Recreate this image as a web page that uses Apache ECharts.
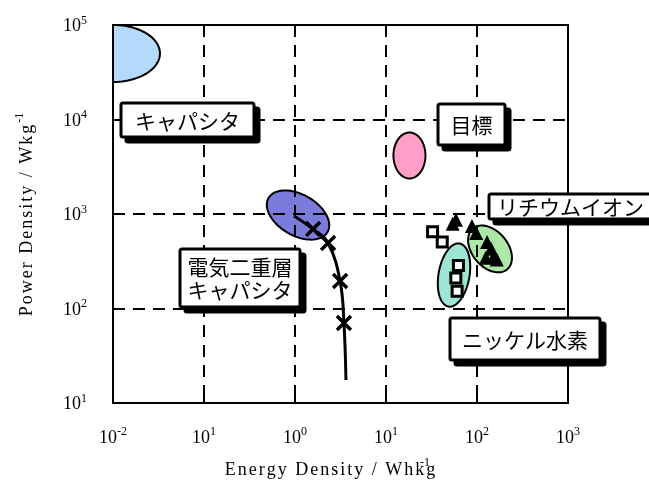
<!DOCTYPE html>
<html>
<head>
<meta charset="utf-8">
<script src="https://cdn.jsdelivr.net/npm/echarts@6/dist/echarts.min.js"></script>
<style>
  html, body { margin: 0; padding: 0; background: #fff; }
  #chart { width: 649px; height: 482px; }
</style>
</head>
<body>
<div id="chart"></div>
<script>
// Tick label exponents (10^n) along each axis
const xTickExponents = ['-2', '1', '0', '1', '2', '3'];
const yTickExponents = ['1', '2', '3', '4', '5'];

// Operating regions as ellipses in log space:
// centre energy (Wh/kg), centre power (W/kg), half-spans in decades, tilt (deg, clockwise)
const regionNames  = ['キャパシタ', '電気二重層キャパシタ', '目標', 'ニッケル水素', 'リチウムイオン'];
const regionEnergy = [0.01, 1.08, 18.1, 55.9, 139];
const regionPower  = [50000, 975, 4160, 226, 427];
const regionSpanA  = [0.516, 0.374, 0.176, 0.170, 0.293];
const regionSpanB  = [0.302, 0.217, 0.243, 0.339, 0.189];
const regionTilt   = [0, 30, 0, 10, 50];

// Electric double-layer capacitor discharge curve
const edlcEnergy = [0.975, 1.58, 2.31, 3.13, 3.45, 3.63];
const edlcPower  = [953, 693, 493, 195, 70.3, 17.5];
const edlcMarked = [false, true, true, true, true, false];

// Nickel-metal hydride cells
const nimhEnergy = [32.5, 41.5, 62.5, 58.5, 60.5];
const nimhPower  = [650, 506, 285, 210, 152];

// Lithium-ion cells
const liionEnergy = [58.7, 54, 88, 98, 129, 143, 154, 125, 165];
const liionPower  = [870, 790, 745, 630, 505, 430, 360, 345, 330];

// Annotation labels
const labelTexts = ['キャパシタ', '目標', 'リチウムイオン', '電気二重層\nキャパシタ', 'ニッケル水素'];

const regionFill = ['#b3d9fb', '#7b7bdc', '#ff9fc8', '#9de6d6', '#aee8a8'];

const SERIF = '"Liberation Serif", "Times New Roman", serif';
const JP = '"Noto Sans CJK JP", "Noto Sans", sans-serif';

const expRich = {
  b: { fontFamily: SERIF, fontSize: 18, color: '#000', verticalAlign: 'bottom' },
  s: { fontFamily: SERIF, fontSize: 12, color: '#000', verticalAlign: 'bottom', padding: [0, 0, 9, 0] }
};

function logAxis(min, max, exps, extra) {
  return Object.assign({
    type: 'log', logBase: 10, min: min, max: max, z: 1,
    axisLine: { show: true, onZero: false, lineStyle: { color: '#000', width: 2 } },
    axisTick: { show: true, inside: true, length: 10, lineStyle: { color: '#000', width: 2 } },
    minorTick: { show: false },
    axisLabel: {
      formatter: function (v, i) { return '{b|10}{s|' + exps[i] + '}'; },
      rich: expRich
    },
    splitLine: { show: true, lineStyle: { color: '#000', width: 2, type: [12, 8] } }
  }, extra);
}

function frameAxis(min, max, pos) {
  return {
    type: 'log', logBase: 10, min: min, max: max, position: pos, z: 1,
    axisLine: { show: true, onZero: false, lineStyle: { color: '#000', width: 2 } },
    axisTick: { show: false }, axisLabel: { show: false }, splitLine: { show: false }
  };
}

const regionData = regionEnergy.map((e, i) => [e, regionPower[i], regionSpanA[i], regionSpanB[i], regionTilt[i]]);

function renderRegion(params, api) {
  const e = api.value(0), p = api.value(1);
  const c = api.coord([e, p]);
  const pxX = api.coord([e * 10, p])[0] - c[0];
  const pxY = c[1] - api.coord([e, p * 10])[1];
  const a = api.value(2) * pxX, b = api.value(3) * pxY;
  const t = api.value(4) * Math.PI / 180;
  const ux = Math.cos(t), uy = Math.sin(t), vx = -Math.sin(t), vy = Math.cos(t);
  const pts = [];
  for (let k = 0; k < 96; k++) {
    const s = k / 96 * Math.PI * 2;
    const ca = a * Math.cos(s), sb = b * Math.sin(s);
    pts.push([c[0] + ca * ux + sb * vx, c[1] + ca * uy + sb * vy]);
  }
  return {
    type: 'polygon',
    shape: { points: pts },
    style: { fill: regionFill[params.dataIndex], stroke: '#000', lineWidth: 2 }
  };
}

// Letter-spaced serif text built from single-character rich fragments
function spaced(str) {
  return str.split('').map(ch => '{c|' + ch + '}').join('');
}
const titleRich = {
  c: { fontFamily: SERIF, fontSize: 18, fill: '#000', verticalAlign: 'bottom', padding: [0, 1, 0, 1] },
  s: { fontFamily: SERIF, fontSize: 12, fill: '#000', verticalAlign: 'bottom', padding: [0, 0, 10, 1] }
};

// Annotation boxes with a solid drop shadow
const boxLayout = [
  { x: 121, y: 103, w: 133, h: 34 },
  { x: 438, y: 104, w: 67, h: 41 },
  { x: 489, y: 194, w: 168, h: 25 },
  { x: 180, y: 249, w: 120, h: 58 },
  { x: 450, y: 318, w: 150, h: 42 }
];
const labelGraphics = [];
labelTexts.forEach((txt, i) => {
  const L = boxLayout[i];
  labelGraphics.push({
    type: 'rect', z: 99,
    shape: { x: L.x + 5, y: L.y + 5, width: L.w, height: L.h, r: 2 },
    style: { fill: '#000', stroke: '#000', lineWidth: 3 }
  });
  labelGraphics.push({
    type: 'rect', z: 100,
    shape: { x: L.x, y: L.y, width: L.w, height: L.h, r: 2 },
    style: { fill: '#fff', stroke: '#000', lineWidth: 3 }
  });
  labelGraphics.push({
    type: 'text', z: 101,
    x: i === 2 ? L.x + 8 : L.x + L.w / 2, y: L.y + L.h / 2 + 1,
    style: {
      text: txt, fontFamily: JP, fontSize: 21, fill: '#000', lineHeight: 23,
      align: i === 2 ? 'left' : 'center', verticalAlign: 'middle',
      textAlign: i === 2 ? 'left' : 'center', textVerticalAlign: 'middle'
    }
  });
});

const chart = echarts.init(document.getElementById('chart'));
chart.setOption({
  animation: false,
  backgroundColor: '#fff',
  grid: { left: 113, right: 81, top: 25, bottom: 79 },
  xAxis: [
    logAxis(0.01, 1000, xTickExponents, { position: 'bottom', axisLabel: { margin: 23, formatter: function (v, i) { return '{b|10}{s|' + xTickExponents[i] + '}'; }, rich: expRich } }),
    frameAxis(0.01, 1000, 'top')
  ],
  yAxis: [
    logAxis(10, 100000, yTickExponents, { position: 'left', axisLabel: { margin: 26, formatter: function (v, i) { return '{b|10}{s|' + yTickExponents[i] + '}'; }, rich: expRich } }),
    frameAxis(10, 100000, 'right')
  ],
  series: [
    {
      type: 'custom', name: 'regions', z: 0, clip: true,
      renderItem: renderRegion,
      encode: { x: 0, y: 1 },
      data: regionData
    },
    {
      type: 'line', name: '電気二重層キャパシタ', z: 3, smooth: 0.4,
      data: edlcEnergy.map((e, i) => ({ value: [e, edlcPower[i]], symbol: edlcMarked[i] ? 'path://M0,0L10,10M10,0L0,10' : 'none' })),
      symbolSize: 14,
      lineStyle: { color: '#000', width: 3 },
      itemStyle: { color: '#000', borderColor: '#000', borderWidth: 3.5 }
    },
    {
      type: 'scatter', name: 'ニッケル水素', z: 4,
      data: nimhEnergy.map((e, i) => [e, nimhPower[i]]),
      symbol: 'rect', symbolSize: 10,
      itemStyle: { color: '#fff', borderColor: '#000', borderWidth: 3, opacity: 1 }
    },
    {
      type: 'scatter', name: 'リチウムイオン', z: 4,
      data: liionEnergy.map((e, i) => [e, liionPower[i]]),
      symbol: 'triangle', symbolSize: 14,
      itemStyle: { color: '#000', opacity: 1 }
    }
  ],
  graphic: labelGraphics.concat([
    {
      type: 'text', z: 50, x: 25, y: 215, rotation: Math.PI / 2,
      style: { text: spaced('Power Density / Wkg') + '{s|-1}', rich: titleRich, align: 'center', verticalAlign: 'middle', textAlign: 'center', textVerticalAlign: 'middle' }
    },
    {
      type: 'text', z: 50, x: 330, y: 470,
      style: { text: spaced('Energy Density / Whkg'), rich: titleRich, align: 'center', verticalAlign: 'middle', textAlign: 'center', textVerticalAlign: 'middle' }
    },
    {
      type: 'text', z: 51, x: 425, y: 463,
      style: { text: '-1', fontFamily: SERIF, fontSize: 12, fill: '#000', align: 'center', verticalAlign: 'middle', textAlign: 'center', textVerticalAlign: 'middle' }
    }
  ])
});
</script>
</body>
</html>
